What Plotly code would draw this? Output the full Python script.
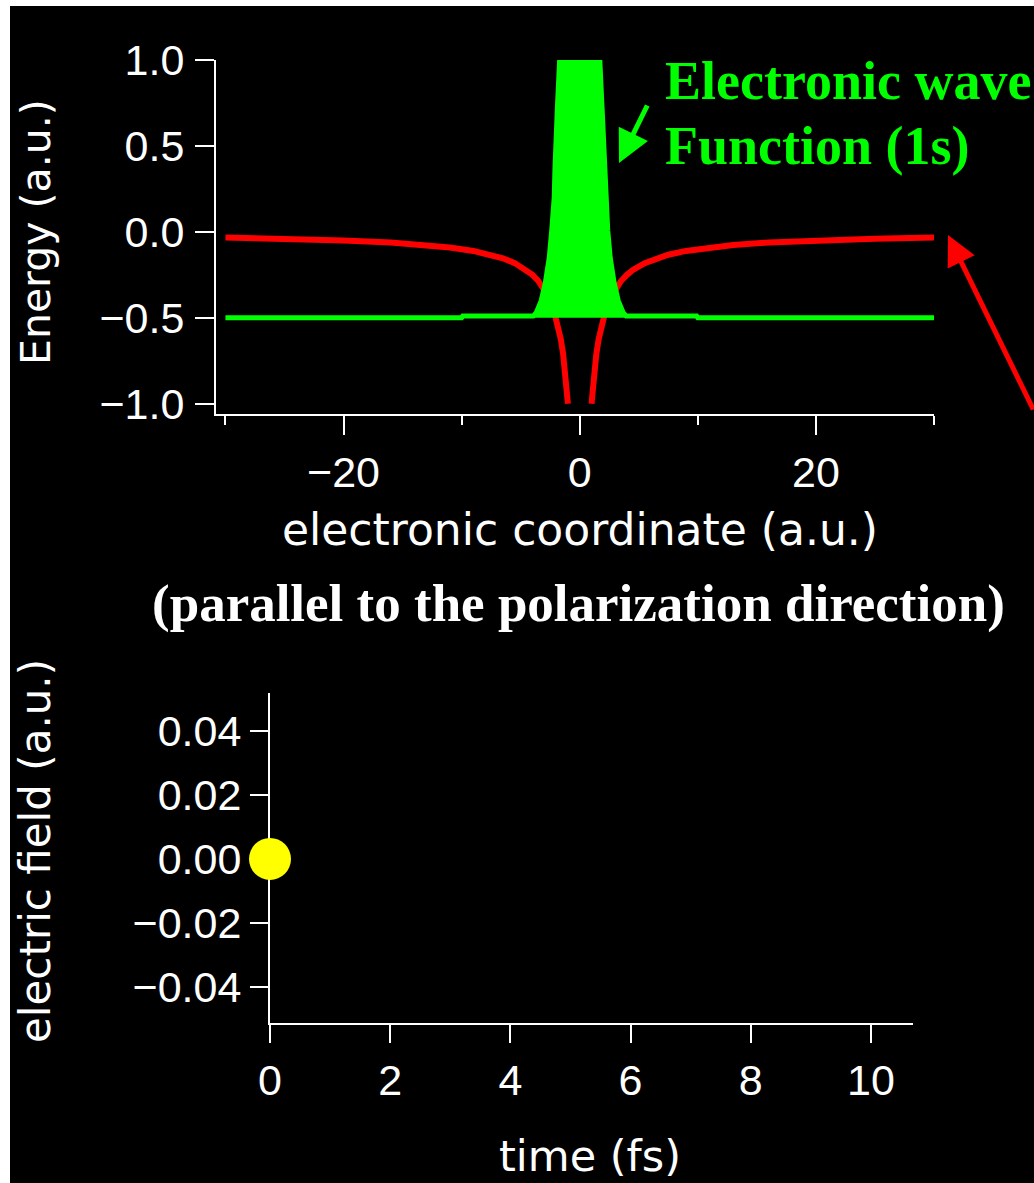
import plotly.graph_objects as go

W, H = 1034, 1183

# --- top panel: soft-Coulomb-like potential and 1s electronic wave function ---
pot_x_left = [-30, -25, -20, -16, -13, -11, -9, -7.5, -6.5, -5.5, -4.5, -4, -3.5,
              -3, -2.6, -2.2, -1.9, -1.6, -1.4, -1.2, -1.0]
pot_left = [-0.033, -0.040, -0.050, -0.062, -0.077, -0.091, -0.111, -0.133, -0.154,
            -0.182, -0.222, -0.250, -0.286, -0.333, -0.385, -0.455, -0.526, -0.625,
            -0.714, -0.833, -1.0]
pot_x_right = [1.0, 1.2, 1.4, 1.6, 1.9, 2.2, 2.6, 3, 3.5, 4, 4.5, 5.5, 6.5, 7.5, 9,
               11, 13, 16, 20, 25, 30]
pot_right = [-1.0, -0.833, -0.714, -0.625, -0.526, -0.455, -0.385, -0.333, -0.286,
             -0.250, -0.222, -0.182, -0.154, -0.133, -0.111, -0.091, -0.077, -0.062,
             -0.050, -0.040, -0.033]

wf_x = [-30, -10, -9.9, -3.94, -3.68, -3.26, -2.92, -2.58, -2.37, -2.16, -2.1, -2.03,
        -1.9, -1.7, 0, 1.7, 1.9, 2.03, 2.1, 2.16, 2.37, 2.58, 2.92, 3.26, 3.68, 3.94,
        9.9, 10, 30]
wf_y = [-0.50, -0.50, -0.49, -0.49, -0.47, -0.40, -0.30, -0.15, 0.01, 0.20, 0.36, 0.52,
        0.71, 1.0, 1.0, 1.0, 0.71, 0.52, 0.36, 0.20, 0.01, -0.15, -0.30, -0.40, -0.47,
        -0.49, -0.49, -0.50, -0.50]
wf_base_x = [-30, 30]
wf_base_y = [-0.5, -0.5]

energy_ticks = [1.0, 0.5, 0.0, -0.5, -1.0]
energy_ticktext = ["1.0", "0.5", "0.0", "\u22120.5", "\u22121.0"]
coord_major = [-20, 0, 20]
coord_major_text = ["\u221220", "0", "20"]
coord_minor = [-30, -10, 10, 30]

# --- bottom panel: laser electric field vs time ---
field_t = [0.0]
field_e = [0.0]
field_ticks = [0.04, 0.02, 0.0, -0.02, -0.04]
field_ticktext = ["0.04", "0.02", "0.00", "\u22120.02", "\u22120.04"]
time_ticks = [0, 2, 4, 6, 8, 10]

RED = "#ff0000"
GREEN = "#00ff00"
YELLOW = "#ffff00"
TICKFONT = dict(family="Liberation Sans", size=43, color="white")
TITLEFONT = dict(family="DejaVu Sans", size=43, color="white")
SERIF = "Liberation Serif"

fig = go.Figure()

fig.add_trace(go.Scatter(x=pot_x_left + [None] + pot_x_right,
                         y=pot_left + [None] + pot_right,
                         mode="lines", line=dict(color=RED, width=6),
                         xaxis="x", yaxis="y", hoverinfo="skip"))
fig.add_trace(go.Scatter(x=wf_base_x, y=wf_base_y, mode="lines",
                         line=dict(color=GREEN, width=0),
                         xaxis="x", yaxis="y", hoverinfo="skip"))
fig.add_trace(go.Scatter(x=wf_x, y=wf_y, mode="lines",
                         line=dict(color=GREEN, width=5),
                         fill="tonexty", fillcolor=GREEN,
                         xaxis="x", yaxis="y", hoverinfo="skip"))
fig.add_trace(go.Scatter(x=field_t, y=field_e, mode="markers",
                         marker=dict(color=YELLOW, size=42, line=dict(width=0)),
                         cliponaxis=False, xaxis="x2", yaxis="y2", hoverinfo="skip"))


def px_x(p):
    return p / W


def px_y(p):
    return 1 - p / H


axis_common = dict(showgrid=False, zeroline=False, showline=True, linecolor="white",
                   linewidth=2, ticks="outside", tickcolor="white", tickwidth=2,
                   tickfont=TICKFONT, tickmode="array", fixedrange=True,
                   automargin=False)

fig.update_layout(
    template="none",
    width=W, height=H,
    margin=dict(l=0, r=0, t=0, b=0, pad=0, autoexpand=False),
    paper_bgcolor="black", plot_bgcolor="black",
    showlegend=False,
    xaxis=dict(axis_common, domain=[px_x(216), px_x(934)], range=[-30.8, 30],
               anchor="y", tickvals=coord_major, ticktext=coord_major_text,
               ticklen=19, ticklabelstandoff=0,
               minor=dict(tickmode="array", tickvals=coord_minor, ticks="outside",
                          ticklen=9, tickcolor="white", tickwidth=2, showgrid=False)),
    yaxis=dict(axis_common, domain=[px_y(414), px_y(60)], range=[-1.06, 1.0],
               anchor="x", tickvals=energy_ticks, ticktext=energy_ticktext,
               ticklen=19, ticklabelstandoff=2),
    xaxis2=dict(axis_common, domain=[px_x(270), px_x(913)], range=[0, 10.7],
                anchor="y2", tickvals=time_ticks, ticklen=18, ticklabelstandoff=0,
                layer="below traces"),
    yaxis2=dict(axis_common, domain=[px_y(1023), px_y(693)], range=[-0.0513, 0.0519],
                anchor="x2", tickvals=field_ticks, ticktext=field_ticktext,
                ticklen=18, ticklabelstandoff=0, layer="below traces"),
)

annotations = [
    dict(text="Energy (a.u.)", x=px_x(36), y=px_y(232), textangle=-90,
         font=dict(TITLEFONT, size=41)),
    dict(text="electronic coordinate (a.u.)", x=px_x(580), y=px_y(529),
         font=dict(TITLEFONT, size=44)),
    dict(text="electric field (a.u.)", x=px_x(36), y=px_y(851), textangle=-90,
         font=dict(TITLEFONT, size=42)),
    dict(text="time (fs)", x=px_x(590), y=px_y(1156), font=TITLEFONT),
    dict(text="<b>(parallel to the polarization direction)</b>", x=px_x(578),
         y=px_y(603), font=dict(family=SERIF, size=53, color="white")),
    dict(text="<b>Electronic wave</b>", x=px_x(663), y=px_y(81), xanchor="left",
         font=dict(family=SERIF, size=54, color=GREEN)),
    dict(text="<b>Function (1s)</b>", x=px_x(663), y=px_y(146), xanchor="left",
         font=dict(family=SERIF, size=54, color=GREEN)),
]
for a in annotations:
    a.setdefault("xanchor", "center")
    a.update(xref="paper", yref="paper", yanchor="middle", showarrow=False)
    fig.add_annotation(**a)

# pointer arrows
fig.add_annotation(x=px_x(619), y=px_y(163), xref="paper", yref="paper", text="",
                   showarrow=True, ax=29, ay=-59, arrowcolor=GREEN, arrowwidth=5,
                   arrowhead=2, arrowsize=1.3, standoff=0)
fig.add_annotation(x=px_x(948), y=px_y(235), xref="paper", yref="paper", text="",
                   showarrow=True, ax=95, ay=176, arrowcolor=RED, arrowwidth=5,
                   arrowhead=2, arrowsize=1.2, standoff=0)

# white strips along the top and left edges
fig.add_shape(type="rect", xref="paper", yref="paper", x0=0, x1=px_x(10), y0=0, y1=1,
              fillcolor="white", line=dict(width=0), layer="above")
fig.add_shape(type="rect", xref="paper", yref="paper", x0=0, x1=1, y0=px_y(6), y1=1,
              fillcolor="white", line=dict(width=0), layer="above")

fig.write_html("out.html", config=dict(displayModeBar=False))
